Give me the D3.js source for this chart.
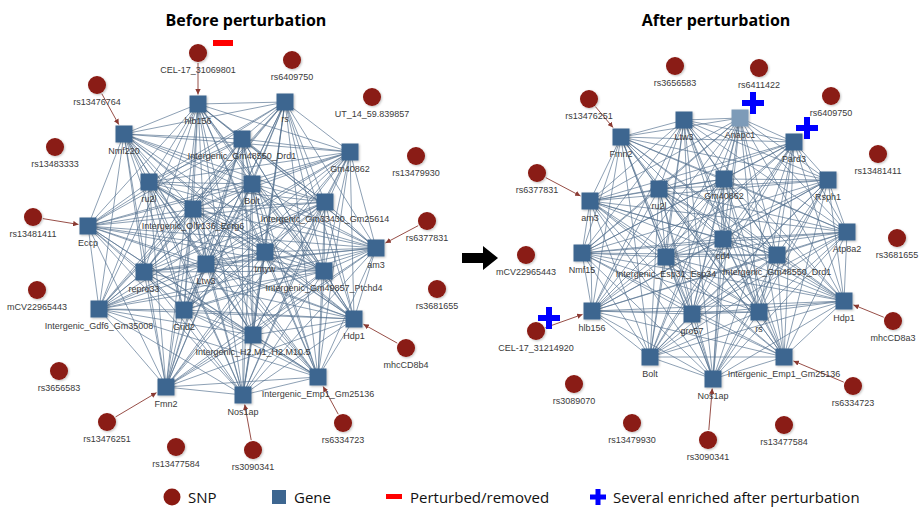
<!DOCTYPE html>
<html>
<head>
<meta charset="utf-8">
<script src="https://cdn.jsdelivr.net/npm/d3@7"></script>
<style>
  body { margin: 0; background: #fff; }
  svg { display: block; }
</style>
</head>
<body>
<div id="chart"></div>
<script>
// network layouts, coordinates in each panel's own layout space (0..460 x 0..508)
let beforeGenes = [
  ["hlb156", 198, 104], ["rs", 285, 102], ["Nmf220", 124, 134],
  ["Intergenic_Gm48550_Drd1", 242, 139], ["Gm40862", 350, 152],
  ["ru2l", 149, 182], ["Bolt", 252, 184], ["Intergenic_Olfr136_Ecrg6", 193, 209],
  ["Intergenic_Gm33430_Gm25614", 325, 202], ["Eccp", 88, 226],
  ["am3", 376, 248], ["tmyw", 265, 252], ["Ltw3", 206, 264],
  ["repro33", 144, 272], ["Intergenic_Gm49857_Ptchd4", 324, 271],
  ["Intergenic_Gdf6_Gm35008", 99, 309], ["Grid2", 184, 310],
  ["Hdp1", 354, 319], ["Intergenic_H2.M1_H2.M10.5", 253, 335],
  ["Intergenic_Emp1_Gm25136", 318, 377], ["Fmn2", 166, 387], ["Nos1ap", 243, 395]
];
let beforeSnps = [
  ["CEL-17_31069801", 198, 53], ["rs6409750", 292, 60], ["rs13476764", 97, 85],
  ["UT_14_59.839857", 372, 97], ["rs13483333", 55, 147], ["rs13479930", 416, 156],
  ["rs13481411", 33, 217], ["rs6377831", 427, 221], ["mCV22965443", 37, 290],
  ["rs3681655", 437, 289], ["mhcCD8b4", 406, 348], ["rs3656583", 59, 371],
  ["rs13476251", 107, 422], ["rs6334723", 343, 423], ["rs13477584", 176, 447],
  ["rs3090341", 253, 450]
];
let beforeLinks = [
  ["CEL-17_31069801", "hlb156"], ["rs13476764", "Nmf220"], ["rs13481411", "Eccp"],
  ["rs6377831", "am3"], ["mhcCD8b4", "Hdp1"], ["rs6334723", "Intergenic_Emp1_Gm25136"],
  ["rs3090341", "Nos1ap"], ["rs13476251", "Fmn2"]
];
let beforeRemoved = ["CEL-17_31069801"];

let afterGenes = [
  ["Fmn2", 161, 137], ["Ltw3", 224, 120], ["Anapc1", 280, 118], ["Pard3", 334, 142],
  ["Gm40862", 264, 179], ["Rsph1", 368, 180], ["ru2l", 199, 189], ["am3", 130, 201],
  ["Atp8a2", 387, 232], ["cd4", 263, 239], ["Nmf15", 122, 253],
  ["Intergenic_Esp31_Esp34", 206, 257], ["Intergenic_Gm48550_Drd1", 317, 255],
  ["Hdp1", 384, 301], ["hlb156", 132, 311], ["gro57", 232, 314], ["rs", 299, 312],
  ["Bolt", 190, 357], ["Intergenic_Emp1_Gm25136", 324, 357], ["Nos1ap", 253, 379]
];
let afterSnps = [
  ["rs3656583", 215, 66], ["rs6411422", 299, 68], ["rs6409750", 371, 96],
  ["rs13476251", 129, 99], ["rs13481411", 418, 154], ["rs6377831", 77, 173],
  ["rs3681655", 437, 238], ["mCV22965443", 66, 255], ["mhcCD8a3", 433, 321],
  ["CEL-17_31214920", 76, 331], ["rs3089070", 114, 384], ["rs6334723", 393, 386],
  ["rs13479930", 172, 423], ["rs13477584", 324, 425], ["rs3090341", 248, 440]
];
let afterLinks = [
  ["rs13476251", "Fmn2"], ["rs6377831", "am3"], ["CEL-17_31214920", "hlb156"],
  ["mhcCD8a3", "Hdp1"], ["rs6334723", "Intergenic_Emp1_Gm25136"], ["rs3090341", "Nos1ap"]
];
let afterNew = ["Anapc1"];
let afterEnriched = ["rs6411422", "Pard3", "CEL-17_31214920"];

let titles = ["Before perturbation", "After perturbation"];
let legendItems = ["SNP", "Gene", "Perturbed/removed", "Several enriched after perturbation"];

const W = 919, H = 508;
const geneColor = "#3d6690";
const newGeneColor = "#7d9bb8";
const snpColor = "#8a1a12";
const edgeColor = "#55718f";
const linkColor = "#8b3a32";
const labelFont = "'Liberation Sans', Arial, sans-serif";
const sq = 17, r = 9;

const svg = d3.select("#chart").append("svg")
  .attr("width", W).attr("height", H)
  .attr("font-family", labelFont);

let defs = svg.append("defs");
let shadow = defs.append("filter").attr("id", "shadow")
  .attr("x", "-30%").attr("y", "-30%").attr("width", "160%").attr("height", "160%");
shadow.append("feDropShadow").attr("dx", 1).attr("dy", 1)
  .attr("stdDeviation", 1).attr("flood-color", "#000").attr("flood-opacity", 0.25);
defs.append("marker").attr("id", "arrowhead")
  .attr("viewBox", "0 0 10 10").attr("refX", 10).attr("refY", 5)
  .attr("markerWidth", 6).attr("markerHeight", 6).attr("orient", "auto")
  .append("path").attr("d", "M0,0 L10,5 L0,10 Z").attr("fill", linkColor);

function plusPath(cx, cy, s, t) {
  let a = s / 2, b = t / 2;
  return `M${cx - b},${cy - a}H${cx + b}V${cy - b}H${cx + a}V${cy + b}H${cx + b}V${cy + a}` +
    `H${cx - b}V${cy + b}H${cx - a}V${cy - b}H${cx - b}Z`;
}

function drawNetwork(genes, snps, links, offsetX, opts) {
  let x = d3.scaleLinear().domain([0, 460]).range([offsetX, offsetX + 460]);
  let y = d3.scaleLinear().domain([0, 508]).range([0, 508]);
  let g = svg.append("g");

  let pos = {};
  genes.forEach(d => pos[d[0]] = { x: x(d[1]), y: y(d[2]) });
  snps.forEach(d => pos[d[0]] = { x: x(d[1]), y: y(d[2]) });

  // gene-gene interactions
  let edges = [];
  for (let i = 0; i < genes.length; i++) {
    for (let j = i + 1; j < genes.length; j++) {
      edges.push([genes[i][0], genes[j][0]]);
    }
  }
  g.append("g").selectAll("line").data(edges).enter().append("line")
    .attr("x1", d => pos[d[0]].x).attr("y1", d => pos[d[0]].y)
    .attr("x2", d => pos[d[1]].x).attr("y2", d => pos[d[1]].y)
    .attr("stroke", edgeColor).attr("stroke-width", 0.9).attr("stroke-opacity", 0.75);

  // SNP -> gene links
  g.append("g").selectAll("line").data(links).enter().append("line")
    .each(function(d) {
      let s = pos[d[0]], t = pos[d[1]];
      let dx = t.x - s.x, dy = t.y - s.y;
      let len = Math.sqrt(dx * dx + dy * dy);
      let h = sq / 2 + 1;
      let k = Math.min(h / Math.abs(dx || 1e-6), h / Math.abs(dy || 1e-6));
      let sr = (r + 1) / len;
      d3.select(this)
        .attr("x1", s.x + dx * sr).attr("y1", s.y + dy * sr)
        .attr("x2", t.x - dx * k).attr("y2", t.y - dy * k);
    })
    .attr("stroke", linkColor).attr("stroke-width", 0.9)
    .attr("marker-end", "url(#arrowhead)");

  // genes
  g.append("g").selectAll("rect").data(genes).enter().append("rect")
    .attr("x", d => x(d[1]) - sq / 2).attr("y", d => y(d[2]) - sq / 2)
    .attr("width", sq).attr("height", sq)
    .attr("fill", d => (opts.newGenes || []).includes(d[0]) ? newGeneColor : geneColor)
    .attr("filter", "url(#shadow)");

  // snps
  g.append("g").selectAll("circle").data(snps).enter().append("circle")
    .attr("cx", d => x(d[1])).attr("cy", d => y(d[2])).attr("r", r)
    .attr("fill", snpColor).attr("filter", "url(#shadow)");

  // labels
  g.append("g").selectAll("text").data(genes.concat(snps)).enter().append("text")
    .attr("x", d => x(d[1])).attr("y", d => y(d[2]) + 20)
    .attr("text-anchor", "middle").attr("font-size", 9).attr("fill", "#3a3a3a")
    .text(d => d[0]);

  // markers for removed / enriched nodes
  (opts.removed || []).forEach(n => {
    g.append("rect").attr("x", pos[n].x + 15).attr("y", pos[n].y - 13)
      .attr("width", 20).attr("height", 6).attr("fill", "#ff0000");
  });
  (opts.enriched || []).forEach((n, i) => {
    let off = opts.plusOffsets[i];
    g.append("path").attr("d", plusPath(pos[n].x + off[0], pos[n].y + off[1], 22, 6))
      .attr("fill", "#0000ff");
  });
}

drawNetwork(beforeGenes, beforeSnps, beforeLinks, 0, { removed: beforeRemoved });
drawNetwork(afterGenes, afterSnps, afterLinks, 460, {
  newGenes: afterNew,
  enriched: afterEnriched,
  plusOffsets: [[-6, 35], [13, -14], [13, -13]]
});

// titles
svg.selectAll(".title").data(titles).enter().append("text")
  .attr("class", "title")
  .attr("x", (d, i) => i === 0 ? 246 : 716).attr("y", 26)
  .attr("text-anchor", "middle")
  .attr("font-family", "'Open Sans', 'Liberation Sans', sans-serif")
  .attr("font-weight", "bold").attr("font-size", 16)
  .text(d => d);

// black arrow between panels
svg.append("path")
  .attr("d", "M462,253H483V246L498,258L483,270V263H462Z")
  .attr("fill", "#000");

// legend
let lg = svg.append("g").attr("font-family", "'Open Sans', 'Liberation Sans', sans-serif")
  .attr("font-size", 15).attr("fill", "#111");
lg.append("circle").attr("cx", 172).attr("cy", 497).attr("r", 8.5).attr("fill", snpColor);
lg.append("rect").attr("x", 272).attr("y", 490).attr("width", 14).attr("height", 14).attr("fill", geneColor);
lg.append("rect").attr("x", 386).attr("y", 494).attr("width", 16).attr("height", 5).attr("fill", "#ff0000");
lg.append("path").attr("d", plusPath(598, 497, 16, 5)).attr("fill", "#0000ff");
let legendX = [188, 294, 410, 613];
lg.selectAll("text").data(legendItems).enter().append("text")
  .attr("x", (d, i) => legendX[i]).attr("y", 503)
  .text(d => d);
</script>
</body>
</html>
